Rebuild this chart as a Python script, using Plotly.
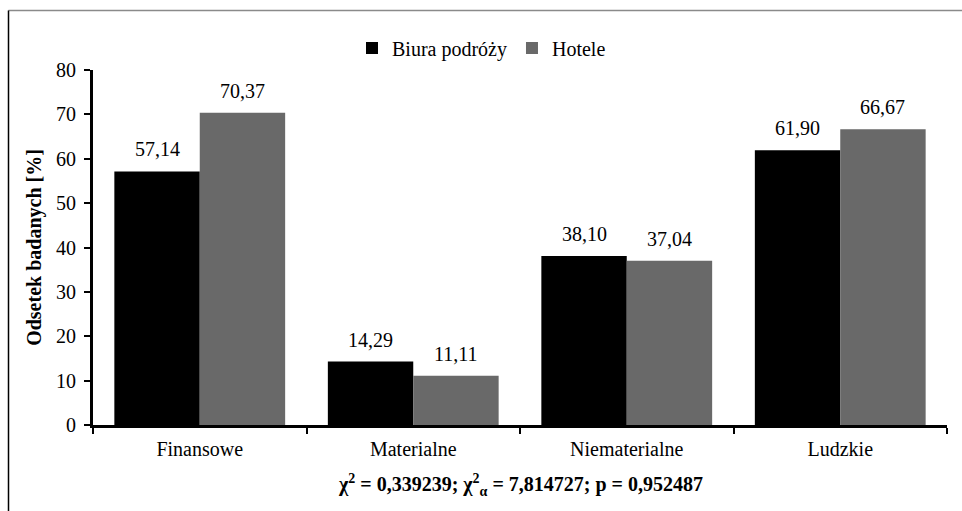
import plotly.graph_objects as go

# Categories and survey shares (%)
categories = ["Finansowe", "Materialne", "Niematerialne", "Ludzkie"]
biura = [57.14, 14.29, 38.10, 61.90]
hotele = [70.37, 11.11, 37.04, 66.67]
series_names = ["Biura podróży", "Hotele"]
y_ticks = [0, 10, 20, 30, 40, 50, 60, 70, 80]
stat_text = "χ<sup>2</sup> = 0,339239; χ<sup>2</sup><sub>α</sub> = 7,814727; p = 0,952487"
y_title = "Odsetek badanych [%]"

FONT = "Liberation Serif"
COL_A = "#000000"
COL_B = "#696969"

W, H = 962, 511
ML, MR, MT, MB = 93, 15, 70, 86
PW, PH = W - ML - MR, H - MT - MB


def px_x(x):
    return (x - ML) / PW


def px_y(y):
    return (H - MB - y) / PH


def fmt(v):
    return f"{v:.2f}".replace(".", ",")


fig = go.Figure()
fig.add_trace(go.Bar(x=categories, y=biura, name=series_names[0],
                     marker=dict(color=COL_A, line=dict(width=0))))
fig.add_trace(go.Bar(x=categories, y=hotele, name=series_names[1],
                     marker=dict(color=COL_B, line=dict(width=0))))

# value labels above each bar
annotations = []
bar_offset = PW / len(categories) * 0.8 / 4
for vals, sh in ((biura, -bar_offset), (hotele, bar_offset)):
    for c, v in zip(categories, vals):
        annotations.append(dict(x=c, y=v, xref="x", yref="y", text=fmt(v),
                                showarrow=False, xshift=sh, yshift=22,
                                yanchor="middle",
                                font=dict(family=FONT, size=20, color="#000")))

annotations.append(dict(x=0.5, y=px_y(485), xref="paper", yref="paper",
                        text="<b>" + stat_text + "</b>", showarrow=False,
                        xanchor="center", yanchor="middle",
                        font=dict(family=FONT, size=20, color="#000")))

# outer frame (top and left edges)
shapes = [
    dict(type="line", xref="paper", yref="paper",
         x0=px_x(8.5), x1=px_x(W + 5), y0=px_y(10.5), y1=px_y(10.5),
         line=dict(color="#8a8a8a", width=1.5)),
    dict(type="line", xref="paper", yref="paper",
         x0=px_x(8.5), x1=px_x(8.5), y0=px_y(10.5), y1=px_y(H + 5),
         line=dict(color="#000", width=1.5)),
]

fig.update_layout(
    width=W, height=H,
    margin=dict(l=ML, r=MR, t=MT, b=MB, pad=0),
    paper_bgcolor="white", plot_bgcolor="white",
    barmode="group", bargap=0.2, bargroupgap=0,
    font=dict(family=FONT, size=20, color="#000"),
    showlegend=True,
    legend=dict(orientation="h", x=px_x(352), xanchor="left", y=px_y(48),
                yanchor="middle", itemwidth=30, traceorder="normal",
                font=dict(family=FONT, size=20, color="#000"),
                bgcolor="rgba(0,0,0,0)"),
    xaxis=dict(showline=True, linecolor="#000", linewidth=3,
               ticks="outside", ticklen=6, tickwidth=2, tickcolor="#000",
               tickson="boundaries", showgrid=False, zeroline=False,
               ticklabelstandoff=4,
               tickfont=dict(family=FONT, size=20, color="#000")),
    yaxis=dict(range=[0, 80], tickvals=y_ticks, showline=True, linecolor="#000",
               linewidth=3, ticks="outside", ticklen=6, tickwidth=2,
               tickcolor="#000", showgrid=False, zeroline=False,
               ticklabelstandoff=4,
               tickfont=dict(family=FONT, size=20, color="#000"),
               title=dict(text="<b>" + y_title + "</b>", standoff=10,
                          font=dict(family=FONT, size=20, color="#000"))),
    annotations=annotations,
    shapes=shapes,
)

fig.write_html("out.html")
